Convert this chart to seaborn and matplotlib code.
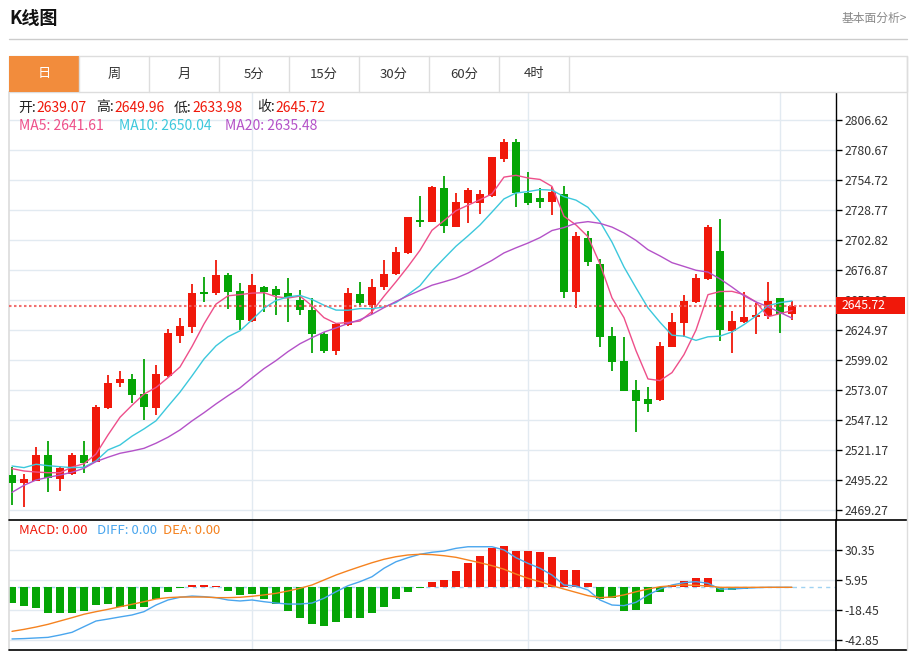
# ============================================
# K LINE CHART (DAILY) WITH MA LINES + MACD
# ============================================

import numpy as np
import pandas as pd

import matplotlib
matplotlib.use("Agg")
import matplotlib.pyplot as plt
from matplotlib.patches import Rectangle
from matplotlib.lines import Line2D

import seaborn as sns

# ============================================
# DATA
# ============================================

opens = [2499.5, 2492.9, 2494.6, 2516.8, 2496.3, 2500.4, 2516.8, 2511.0, 2557.2, 2579.4,
         2582.3, 2569.6, 2557.7, 2585.4, 2619.8, 2627.8, 2657.8, 2656.7, 2672.5, 2658.7,
         2633.0, 2662.4, 2660.2, 2656.7, 2650.6, 2642.3, 2621.5, 2607.0, 2629.3, 2655.9,
         2646.6, 2661.9, 2673.4, 2691.8, 2720.1, 2718.6, 2747.5, 2714.3, 2735.1, 2734.6,
         2740.9, 2772.9, 2787.3, 2743.7, 2738.9, 2736.0, 2742.3, 2658.1, 2704.8, 2681.8,
         2619.8, 2598.4, 2573.1, 2564.9, 2564.4, 2610.5, 2631.3, 2649.4, 2668.8, 2693.3,
         2624.3, 2631.6, 2635.9, 2637.1, 2652.4, 2639.07]

closes = [2492.3, 2495.8, 2516.8, 2496.7, 2505.8, 2516.8, 2510.2, 2558.6, 2579.4, 2582.3,
          2568.7, 2558.6, 2586.9, 2622.1, 2628.4, 2657.2, 2656.4, 2672.5, 2658.1, 2633.6,
          2663.6, 2658.1, 2655.2, 2652.4, 2642.0, 2621.5, 2607.0, 2630.1, 2656.7, 2648.0,
          2662.4, 2673.4, 2692.7, 2722.4, 2718.6, 2748.9, 2714.9, 2735.9, 2746.1, 2742.3,
          2774.3, 2787.3, 2743.7, 2734.6, 2736.0, 2744.1, 2658.1, 2706.3, 2683.5, 2618.6,
          2597.5, 2572.2, 2563.8, 2560.9, 2611.4, 2632.1, 2650.0, 2669.7, 2714.3, 2624.9,
          2633.0, 2635.9, 2637.9, 2650.3, 2638.6, 2645.72]

highs = [2506.7, 2500.4, 2523.5, 2529.2, 2507.3, 2518.8, 2529.2, 2560.1, 2586.0, 2589.7,
         2586.9, 2600.1, 2594.7, 2625.6, 2635.1, 2664.7, 2671.1, 2685.5, 2674.5, 2665.9,
         2673.4, 2663.0, 2663.0, 2670.2, 2659.6, 2652.4, 2623.5, 2631.3, 2661.0, 2666.7,
         2668.8, 2685.5, 2696.5, 2723.0, 2740.9, 2749.5, 2758.2, 2743.2, 2747.5, 2746.1,
         2774.9, 2789.9, 2789.9, 2761.9, 2747.5, 2748.4, 2749.5, 2710.0, 2710.6, 2686.1,
         2627.3, 2618.6, 2581.7, 2575.9, 2614.8, 2639.4, 2655.2, 2673.4, 2715.8, 2721.0,
         2641.6, 2658.1, 2648.0, 2666.3, 2653.0, 2649.96]

lows = [2473.6, 2472.1, 2494.0, 2485.1, 2485.9, 2499.5, 2501.5, 2510.5, 2556.6, 2575.4,
        2561.5, 2547.1, 2551.4, 2584.6, 2614.0, 2622.6, 2649.4, 2655.2, 2642.9, 2624.9,
        2632.1, 2640.8, 2637.9, 2632.1, 2637.9, 2605.3, 2605.3, 2603.3, 2628.4, 2645.1,
        2638.8, 2659.6, 2672.5, 2691.0, 2714.3, 2718.0, 2709.1, 2714.0, 2717.3, 2725.3,
        2740.3, 2770.5, 2731.6, 2733.1, 2730.2, 2724.4, 2652.4, 2643.7, 2680.3, 2610.5,
        2589.7, 2571.8, 2537.0, 2554.3, 2563.8, 2610.0, 2619.2, 2648.6, 2668.2, 2615.7,
        2605.3, 2631.3, 2621.2, 2634.2, 2622.1, 2633.98]

# moving average values before a full window is available
ma5_head = [2505.0, 2503.0, 2502.1, 2501.5]
ma10_head = [2507.3, 2505.9, 2508.8, 2507.6, 2506.7, 2505.9, 2506.2, 2511.7, 2521.2]
ma20_head = [2484.5, 2490.6, 2495.2, 2497.5, 2499.5, 2501.9, 2505.3, 2511.1, 2514.9, 2518.3,
             2520.3, 2522.6, 2527.0, 2532.2, 2538.5, 2546.3, 2553.4, 2561.0, 2568.1]

macd_vals = [-13.0, -14.9, -16.5, -21.1, -21.1, -20.6, -19.3, -14.4, -13.8, -15.8,
             -17.9, -15.8, -9.5, -3.6, -0.8, 1.9, 1.6, 1.1, -3.0, -6.2,
             -5.7, -9.5, -13.8, -19.0, -24.7, -29.8, -31.2, -27.9, -25.2, -24.7,
             -21.1, -15.8, -9.5, -3.6, -0.3, 4.6, 6.0, 13.5, 20.0, 25.5,
             32.2, 33.6, 29.8, 29.8, 28.5, 24.4, 14.1, 14.1, 3.3, -9.5,
             -8.9, -19.3, -18.5, -13.8, -4.1, 1.9, 5.1, 7.8, 7.3, -3.6,
             -2.2, -1.0, -0.3, 0.0, 0.0, 0.0]

diff_vals = [-42.0, -41.7, -41.2, -40.7, -38.8, -36.6, -32.0, -27.4, -25.8, -24.1,
             -22.5, -19.8, -14.4, -10.3, -8.1, -7.1, -7.6, -8.4, -10.3, -11.1,
             -10.3, -11.7, -12.8, -13.6, -13.6, -12.8, -8.9, -3.6, 1.3, 4.6,
             8.6, 15.5, 20.8, 24.1, 26.9, 28.5, 29.5, 31.7, 33.0, 33.0,
             33.0, 30.4, 24.1, 19.5, 15.5, 10.0, 1.9, 1.1, -2.2, -10.3,
             -14.4, -14.9, -12.2, -6.2, -1.4, 1.9, 3.8, 4.6, 3.3, -1.4,
             -1.4, -0.8, -0.3, 0.0, 0.0, 0.0]

dea_vals = [-35.8, -34.2, -32.3, -30.1, -27.4, -24.7, -21.9, -19.8, -17.9, -15.8,
            -13.8, -11.7, -9.5, -8.4, -7.9, -7.9, -7.9, -8.4, -8.4, -8.1,
            -7.3, -6.2, -4.9, -3.0, -0.8, 1.9, 5.95, 10.0, 13.5, 16.8,
            20.0, 22.8, 24.9, 26.3, 26.9, 26.6, 25.7, 24.4, 22.2, 20.0,
            17.6, 14.7, 10.8, 7.3, 4.6, 1.3, -1.4, -4.1, -6.8, -8.4,
            -7.9, -6.2, -3.6, -1.4, 0.5, 1.3, 1.9, 1.6, 1.1, 0.0,
            0.0, 0.0, 0.0, 0.0, 0.0, 0.0]

price_ticks = [2469.27, 2495.22, 2521.17, 2547.12, 2573.07, 2599.02, 2624.97,
               2650.92, 2676.87, 2702.82, 2728.77, 2754.72, 2780.67, 2806.62]
macd_ticks = [30.35, 5.95, -18.45, -42.85]

tab_labels = ["日", "周", "月", "5分", "15分", "30分", "60分", "4时"]
month_marks = [20, 43, 64]
ma_labels = ["MA5: 2641.61", "MA10: 2650.04", "MA20: 2635.48"]
macd_labels = ["MACD: 0.00", "DIFF: 0.00", "DEA: 0.00"]

# ============================================
# BUILD DATAFRAME
# ============================================

df = pd.DataFrame({
    "open": opens,
    "high": highs,
    "low": lows,
    "close": closes,
    "macd": macd_vals,
    "diff": diff_vals,
    "dea": dea_vals,
})
df["idx"] = np.arange(len(df))

df["ma5"] = df["close"].rolling(5).mean()
df["ma10"] = df["close"].rolling(10).mean()
df["ma20"] = df["close"].rolling(20).mean()
df.loc[:len(ma5_head) - 1, "ma5"] = ma5_head
df.loc[:len(ma10_head) - 1, "ma10"] = ma10_head
df.loc[:len(ma20_head) - 1, "ma20"] = ma20_head

last = df.iloc[-1]

# ============================================
# STYLE SETTINGS
# ============================================

sns.set_theme(style="white")
plt.rcParams['font.family'] = ['Noto Sans CJK SC', 'DejaVu Sans']

RED = "#f0180a"
GREEN = "#05a505"
GRID = "#e2eaf1"
C_MA5 = "#ee4f8a"
C_MA10 = "#3cc8dc"
C_MA20 = "#b452c8"
C_DIFF = "#4aa6ee"
C_DEA = "#f5821f"

W, H = 910, 653


def fx(px):
    return px / W


def fy(py):
    return 1 - py / H


fig = plt.figure(figsize=(W / 100, H / 100), dpi=100)
fig.patch.set_facecolor("white")

# ============================================
# HEADER + TABS
# ============================================

fig.text(fx(9), fy(19), "K线图", fontsize=13, fontweight="bold",
         color="#111111", ha="left", va="center")
fig.text(fx(907), fy(18), "基本面分析>", fontsize=8.5, color="#888888",
         ha="right", va="center")
fig.add_artist(Line2D([fx(9), fx(907)], [fy(39), fy(39)], color="#cccccc", lw=1))

tab_left = 9
tab_w = 70
fig.add_artist(Rectangle((fx(9), fy(92)), fx(907) - fx(9), fy(56) - fy(92),
                         facecolor="white", edgecolor="#dddddd", lw=1))
for i, lab in enumerate(tab_labels):
    x0 = tab_left + i * tab_w
    if i == 0:
        fig.add_artist(Rectangle((fx(x0), fy(92)), fx(tab_w), fy(56) - fy(92),
                                 facecolor="#f28c3c", edgecolor="none"))
    fig.add_artist(Line2D([fx(x0 + tab_w), fx(x0 + tab_w)], [fy(56), fy(92)],
                          color="#dddddd", lw=1))
    fig.text(fx(x0 + tab_w / 2), fy(74), lab, fontsize=9.5,
             color="white" if i == 0 else "#333333", ha="center", va="center")

# ============================================
# MAIN CANDLE PANEL
# ============================================

ax = fig.add_axes([fx(9), fy(520), fx(836) - fx(9), fy(92) - fy(520)])
ax.set_xlim(-0.25, 68.67)
ax.set_ylim(2460.6, 2830.8)

up = df["close"] >= df["open"]
colors = np.where(up, RED, GREEN)

for v in month_marks:
    ax.axvline(v, color=GRID, lw=1, zorder=0)

ax.vlines(df["idx"], df["low"], df["high"], color=colors, lw=1.3, zorder=2)
body_bottom = np.minimum(df["open"], df["close"])
body_height = np.maximum((df["close"] - df["open"]).abs(), 1.0)
ax.bar(df["idx"], body_height, bottom=body_bottom, width=0.74,
       color=colors, linewidth=0, zorder=3)

sns.lineplot(x=df["idx"], y=df["ma5"], ax=ax, color=C_MA5, lw=1.0, zorder=4)
sns.lineplot(x=df["idx"], y=df["ma10"], ax=ax, color=C_MA10, lw=1.0, zorder=4)
sns.lineplot(x=df["idx"], y=df["ma20"], ax=ax, color=C_MA20, lw=1.0, zorder=4)

ax.axhline(last["close"], color="#f06060", ls=(0, (1.2, 1.2)), lw=1.5,
           alpha=0.9, zorder=5)

ax.set_yticks(price_ticks)
ax.set_yticklabels([f"{t:.2f}" for t in price_ticks])
ax.yaxis.tick_right()
ax.grid(axis="y", color=GRID, lw=1)
ax.grid(axis="x", visible=False)
ax.set_xticks([])
ax.set_xlabel("")
ax.set_ylabel("")
ax.tick_params(axis="y", direction="out", length=4, width=1, color="black",
               labelsize=8.8, labelcolor="#333333", pad=2, right=True, left=False)
for side in ["top", "bottom"]:
    ax.spines[side].set_visible(False)
ax.spines["left"].set_color("#dddddd")
ax.spines["right"].set_color("black")
ax.spines["right"].set_linewidth(1)

# current price box on the axis
fig.add_artist(Rectangle((fx(836), fy(314)), fx(905) - fx(836), fy(297) - fy(314),
                         facecolor=RED, edgecolor="none", zorder=10))
fig.text(fx(842), fy(305.5), f"{last['close']:.2f}", fontsize=8.8,
         color="white", ha="left", va="center", zorder=11)

# info lines
row1 = [("开:", 18), ("高:", 96), ("低:", 174), ("收:", 257)]
row1_vals = [last["open"], last["high"], last["low"], last["close"]]
for (lab, x0), val in zip(row1, row1_vals):
    fig.text(fx(x0), fy(107.5), lab, fontsize=10, color="#222222",
             ha="left", va="center")
    fig.text(fx(x0 + 18), fy(107.5), f"{val:.2f}", fontsize=10, color=RED,
             ha="left", va="center")

for lab, x0, col in zip(ma_labels, [19, 119, 225], [C_MA5, C_MA10, C_MA20]):
    fig.text(fx(x0), fy(126.5), lab, fontsize=10, color=col, ha="left", va="center")

# ============================================
# MACD PANEL
# ============================================

ax2 = fig.add_axes([fx(9), fy(650), fx(836) - fx(9), fy(520) - fy(650)])
ax2.set_xlim(-0.25, 68.67)
ax2.set_ylim(-50.98, 54.75)

for v in month_marks:
    ax2.axvline(v, color=GRID, lw=1, zorder=0)

bar_colors = np.where(df["macd"] > 0, RED, GREEN)
ax2.bar(df["idx"], df["macd"], width=0.7, color=bar_colors, linewidth=0, zorder=2)
ax2.axhline(0, color="#9fd2f2", ls=(0, (3, 3)), lw=1, zorder=1)

sns.lineplot(x=df["idx"], y=df["diff"], ax=ax2, color=C_DIFF, lw=1.0, zorder=4)
sns.lineplot(x=df["idx"], y=df["dea"], ax=ax2, color=C_DEA, lw=1.0, zorder=4)

ax2.set_yticks(macd_ticks)
ax2.set_yticklabels([f"{t:.2f}" for t in macd_ticks])
ax2.yaxis.tick_right()
ax2.grid(axis="y", color=GRID, lw=1)
ax2.grid(axis="x", visible=False)
ax2.set_xticks([])
ax2.set_xlabel("")
ax2.set_ylabel("")
ax2.tick_params(axis="y", direction="out", length=4, width=1, color="black",
                labelsize=8.8, labelcolor="#333333", pad=2, right=True, left=False)
for side in ["top", "bottom"]:
    ax2.spines[side].set_visible(False)
ax2.spines["left"].set_color("#dddddd")
ax2.spines["right"].set_color("black")

for lab, x0, col in zip(macd_labels, [19, 97, 163], [RED, C_DIFF, C_DEA]):
    fig.text(fx(x0), fy(531), lab, fontsize=9.5, color=col, ha="left", va="center")

# ============================================
# FRAME LINES
# ============================================

fig.add_artist(Line2D([fx(9), fx(907)], [fy(520), fy(520)], color="black", lw=1.2))
fig.add_artist(Line2D([fx(9), fx(907)], [fy(650), fy(650)], color="black", lw=1.2))
fig.add_artist(Line2D([fx(907), fx(907)], [fy(56), fy(650)], color="#dddddd", lw=1))

fig.savefig("out.png", dpi=100, facecolor="white")
